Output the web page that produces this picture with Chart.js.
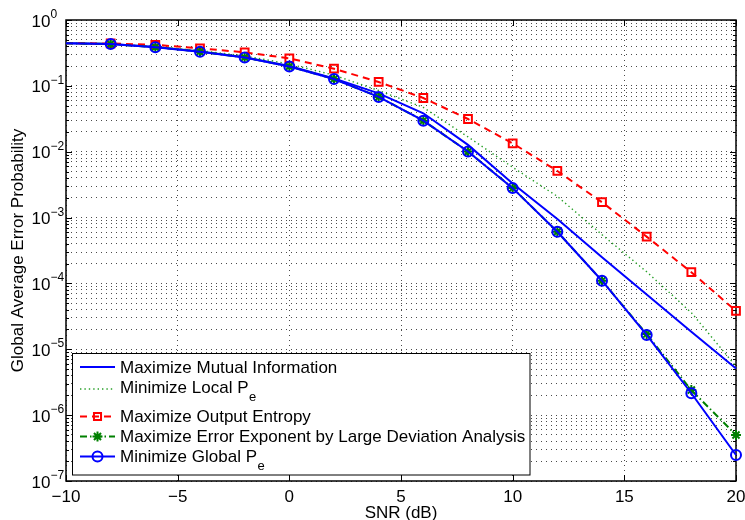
<!DOCTYPE html>
<html>
<head>
<meta charset="utf-8">
<script src="https://cdn.jsdelivr.net/npm/chart.js@4.4.1/dist/chart.umd.min.js"></script>
<style>
  html, body { margin: 0; padding: 0; background: #ffffff; }
  #wrap { width: 745px; height: 520px; position: relative; }
</style>
</head>
<body>
<div id="wrap"><canvas id="chart" width="745" height="520"></canvas></div>
<script>
// SNR sweep (dB)
const snrDb = [-10, -8, -6, -4, -2, 0, 2, 4, 6, 8, 10, 12, 14, 16, 18, 20];

// Global average error probability for each design rule
const maxMutualInfo    = [0.443, 0.432, 0.388, 0.332, 0.272, 0.200, 0.130, 0.077, 0.0383, 0.0127, 3.3e-3, 9.5e-4, 2.5e-4, 6.8e-5, 1.85e-5, 5.1e-6];
const minLocalPe       = [0.443, 0.435, 0.395, 0.343, 0.285, 0.215, 0.145, 0.085, 0.047, 0.0168, 5.8e-3, 2.1e-3, 5.5e-4, 1.5e-4, 3.6e-5, 5.5e-6];
const maxOutputEntropy = [0.445, 0.440, 0.420, 0.371, 0.323, 0.262, 0.182, 0.1145, 0.0654, 0.0314, 0.0134, 5.1e-3, 1.71e-3, 5.13e-4, 1.48e-4, 3.82e-5];
const maxErrorExponent = [0.443, 0.432, 0.387, 0.330, 0.270, 0.197, 0.127, 0.068, 0.0296, 0.0101, 2.8e-3, 6.1e-4, 1.1e-4, 1.7e-5, 2.4e-6, 5.0e-7];
const minGlobalPe      = [0.443, 0.432, 0.387, 0.330, 0.270, 0.197, 0.127, 0.068, 0.0296, 0.0101, 2.8e-3, 6.1e-4, 1.1e-4, 1.65e-5, 2.15e-6, 2.48e-7];

// Axis ticks
const xTickValues = [-10, -5, 0, 5, 10, 15, 20];
const xTickLabels = ['\u221210', '\u22125', '0', '5', '10', '15', '20'];
const yDecadeExponents = [0, -1, -2, -3, -4, -5, -6, -7];

// Legend text: [main text, subscript]
const legendText = [
  ['Maximize Mutual Information', ''],
  ['Minimize Local P', 'e'],
  ['Maximize Output Entropy', ''],
  ['Maximize Error Exponent by Large Deviation Analysis', ''],
  ['Minimize Global P', 'e']
];

const FONT = '"Liberation Sans", Arial, Helvetica, sans-serif';

// every 1..9 x 10^k between 1e-7 and 1, used for grid lines and ticks
const yGridValues = [];
for (let k = -7; k < 0; k++) {
  for (let m = 1; m <= 9; m++) yGridValues.push(+(m * Math.pow(10, k)).toPrecision(3));
}
yGridValues.push(1);

const toPoints = arr => snrDb.map((x, i) => ({ x: x, y: arr[i] }));
const markerRadii = r => snrDb.map((x, i) => (i === 0 ? 0 : r));

const datasets = [
  {
    label: 'Maximize Mutual Information', data: toPoints(maxMutualInfo),
    borderColor: '#0000ff', borderWidth: 2, pointRadius: 0, order: 5
  },
  {
    label: 'Minimize Local Pe', data: toPoints(minLocalPe),
    borderColor: 'rgb(40,160,40)', borderWidth: 1.4, borderDash: [1.4, 3], pointRadius: 0, order: 4
  },
  {
    label: 'Maximize Output Entropy', data: toPoints(maxOutputEntropy),
    borderColor: '#ff0000', borderWidth: 2, borderDash: [7, 5],
    pointStyle: 'rect', pointRadius: markerRadii(5.5), pointBorderWidth: 2,
    pointBorderColor: '#ff0000', pointBackgroundColor: 'rgba(0,0,0,0)', order: 3
  },
  {
    label: 'Maximize Error Exponent by Large Deviation Analysis', data: toPoints(maxErrorExponent),
    borderColor: '#008000', borderWidth: 2, borderDash: [7, 3, 1.5, 3],
    pointStyle: 'star', pointRadius: markerRadii(5), pointBorderWidth: 2,
    pointBorderColor: '#008000', pointBackgroundColor: 'rgba(0,0,0,0)', order: 2
  },
  {
    label: 'Minimize Global Pe', data: toPoints(minGlobalPe),
    borderColor: '#0000ff', borderWidth: 2,
    pointStyle: 'circle', pointRadius: markerRadii(5), pointBorderWidth: 2,
    pointBorderColor: '#0000ff', pointBackgroundColor: 'rgba(0,0,0,0)', order: 1
  }
];
datasets.forEach(d => { d.tension = 0; d.clip = false; d.pointHoverRadius = 0; });

const isDecade = v => Math.abs(Math.log10(v) - Math.round(Math.log10(v))) < 1e-9;

function drawMarker(ctx, style, x, y, r) {
  ctx.beginPath();
  if (style === 'circle') {
    ctx.arc(x, y, r, 0, Math.PI * 2);
  } else if (style === 'rect') {
    const s = r * Math.SQRT1_2;
    ctx.rect(x - s, y - s, 2 * s, 2 * s);
  } else if (style === 'star') {
    ctx.moveTo(x - r, y); ctx.lineTo(x + r, y);
    ctx.moveTo(x, y - r); ctx.lineTo(x, y + r);
    const d = r * Math.SQRT1_2;
    ctx.moveTo(x - d, y - d); ctx.lineTo(x + d, y + d);
    ctx.moveTo(x - d, y + d); ctx.lineTo(x + d, y - d);
  }
  ctx.stroke();
}

const axesDecor = {
  id: 'axesDecor',
  beforeDatasetsDraw(chart) {
    const { ctx, chartArea: a, scales: { x, y } } = chart;
    ctx.save();
    ctx.strokeStyle = '#000';
    ctx.lineWidth = 1;
    ctx.beginPath();
    xTickValues.forEach(v => {
      const px = Math.round(x.getPixelForValue(v)) + 0.5;
      ctx.moveTo(px, a.bottom); ctx.lineTo(px, a.bottom - 6);
      ctx.moveTo(px, a.top); ctx.lineTo(px, a.top + 6);
    });
    yGridValues.forEach(v => {
      const py = Math.round(y.getPixelForValue(v)) + 0.5;
      const len = isDecade(v) ? 6 : 3;
      ctx.moveTo(a.left, py); ctx.lineTo(a.left + len, py);
      ctx.moveTo(a.right, py); ctx.lineTo(a.right - len, py);
    });
    ctx.stroke();
    ctx.lineWidth = 1.5;
    ctx.strokeRect(a.left, a.top, a.right - a.left, a.bottom - a.top);
    ctx.restore();
  },
  afterDraw(chart) {
    const { ctx, chartArea: a, scales: { x, y } } = chart;
    ctx.save();
    ctx.fillStyle = '#000';

    // x tick labels
    ctx.font = '17px ' + FONT;
    ctx.textAlign = 'center';
    ctx.textBaseline = 'alphabetic';
    xTickValues.forEach((v, i) => {
      ctx.fillText(xTickLabels[i], x.getPixelForValue(v), a.bottom + 21);
    });

    // y tick labels: 10 with superscript exponent
    yDecadeExponents.forEach(e => {
      const py = y.getPixelForValue(Math.pow(10, e));
      ctx.font = '17px ' + FONT;
      ctx.textAlign = 'right';
      ctx.fillText('10', 50.5, py + 6.5);
      ctx.font = '12px ' + FONT;
      ctx.textAlign = 'left';
      ctx.fillText(e === 0 ? '0' : '\u2212' + Math.abs(e), 50.5, py - 2);
    });

    // axis titles
    ctx.font = '17px ' + FONT;
    ctx.textAlign = 'center';
    ctx.fillText('SNR (dB)', (a.left + a.right) / 2, 518);
    ctx.save();
    ctx.translate(18, (a.top + a.bottom) / 2);
    ctx.rotate(-Math.PI / 2);
    ctx.textBaseline = 'middle';
    ctx.fillText('Global Average Error Probability', 0, 0);
    ctx.restore();

    // legend
    const L = 72.5, T = 353.5, W = 457.5, H = 121.5;
    ctx.fillStyle = '#fff';
    ctx.fillRect(L, T, W, H);
    ctx.strokeStyle = '#000';
    ctx.lineWidth = 1;
    ctx.strokeRect(L, T, W, H);

    const baselines = [372.7, 393.3, 421.7, 441.7, 461.7];
    const sampleY = [367, 389, 416.5, 436.5, 456.5];
    const order = [0, 1, 2, 3, 4];
    order.forEach(i => {
      const ds = chart.data.datasets[i];
      const ly = sampleY[i];
      ctx.save();
      ctx.strokeStyle = ds.borderColor;
      ctx.lineWidth = ds.borderWidth;
      ctx.setLineDash(ds.borderDash || []);
      ctx.beginPath();
      ctx.moveTo(80, ly); ctx.lineTo(115, ly);
      ctx.stroke();
      ctx.setLineDash([]);
      if (ds.pointStyle) {
        ctx.lineWidth = ds.pointBorderWidth;
        ctx.strokeStyle = ds.pointBorderColor;
        ctx.fillStyle = '#fff';
        drawMarker(ctx, ds.pointStyle, 97.5, ly, 5);
      }
      ctx.restore();

      ctx.fillStyle = '#000';
      ctx.textAlign = 'left';
      ctx.textBaseline = 'alphabetic';
      ctx.font = '17px ' + FONT;
      const [main, sub] = legendText[i];
      ctx.fillText(main, 120, baselines[i]);
      if (sub) {
        const w = ctx.measureText(main).width;
        ctx.font = '13px ' + FONT;
        ctx.fillText(sub, 120 + w + 0.5, baselines[i] + 8);
      }
    });
    ctx.restore();
  }
};

const gridColor = 'rgba(30,30,30,0.8)';

new Chart(document.getElementById('chart'), {
  type: 'line',
  data: { datasets: datasets },
  options: {
    responsive: false,
    devicePixelRatio: 1,
    animation: false,
    events: [],
    layout: { padding: { left: 66, top: 20, right: 9, bottom: 39 } },
    plugins: { legend: { display: false }, tooltip: { enabled: false } },
    scales: {
      x: {
        type: 'linear', min: -10, max: 20,
        afterBuildTicks: s => { s.ticks = xTickValues.map(v => ({ value: v })); },
        ticks: { display: false },
        grid: { color: gridColor, lineWidth: 1, drawTicks: false },
        border: { display: false, dash: [1, 4] }
      },
      y: {
        type: 'logarithmic', min: 1e-7, max: 1,
        afterBuildTicks: s => { s.ticks = yGridValues.map(v => ({ value: v })); },
        ticks: { display: false },
        grid: { color: gridColor, lineWidth: 1, drawTicks: false },
        border: { display: false, dash: [1, 4] }
      }
    }
  },
  plugins: [axesDecor]
});
</script>
</body>
</html>
